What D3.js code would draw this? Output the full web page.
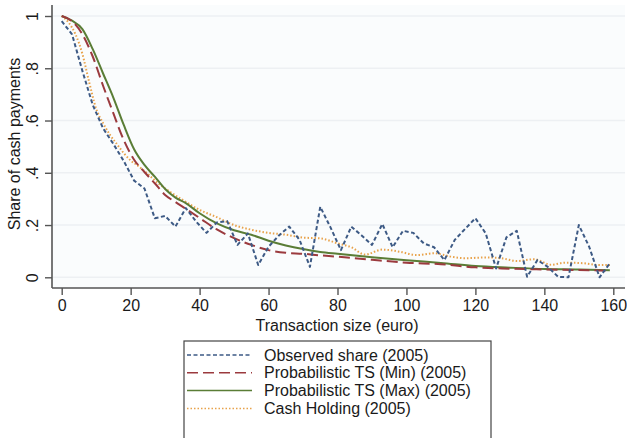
<!DOCTYPE html>
<html><head><meta charset="utf-8">
<script src="https://cdn.jsdelivr.net/npm/d3@7"></script>
<style>body{margin:0;background:#fff}svg{display:block}text{font-family:"Liberation Sans",Arial,sans-serif;fill:#1a1a1a}</style>
</head><body><div id="chart"></div>
<script>
// Observed share (2005)
const obsX = [0,3,6,9,12,15,18,21,24,27,30,33,36,39,42,45,48,51,54,57,60,63,66,69,72,75,78,81,84,87,90,93,96,99,102,105,108,111,114,117,120,123,126,129,132,135,138,141,144,147,150,153,156,159];
const obsY = [0.98,0.93,0.79,0.66,0.57,0.51,0.445,0.37,0.34,0.226,0.235,0.194,0.265,0.213,0.17,0.21,0.215,0.124,0.168,0.047,0.117,0.16,0.194,0.143,0.04,0.27,0.19,0.104,0.194,0.16,0.124,0.204,0.115,0.178,0.17,0.13,0.115,0.066,0.143,0.185,0.226,0.168,0.034,0.153,0.178,0.002,0.066,0.04,0.002,0.0,0.2,0.117,0.0,0.054];
// Probabilistic TS (Min)
const minX = [0,3,6,9,12,15,18,21,24,27,30,33,36,40,45,50,55,60,65,70,75,80,90,100,110,120,130,140,150,159];
const minY = [1.0,0.98,0.93,0.845,0.733,0.627,0.525,0.45,0.403,0.36,0.315,0.288,0.262,0.227,0.183,0.15,0.124,0.104,0.094,0.09,0.084,0.079,0.067,0.056,0.05,0.038,0.033,0.03,0.028,0.025];
// Probabilistic TS (Max)
const maxX = [0,3,6,9,12,15,18,21,24,27,30,33,36,40,45,50,55,60,65,70,75,80,90,100,110,120,130,140,150,159];
const maxY = [1.0,0.982,0.95,0.873,0.78,0.687,0.583,0.49,0.43,0.385,0.338,0.305,0.284,0.245,0.206,0.18,0.163,0.14,0.122,0.108,0.097,0.09,0.077,0.065,0.055,0.043,0.037,0.032,0.03,0.027];
// Cash Holding (2005)
const cashX = [0,2,4,6,8,10,12,14,16,18,20,22,25,28,30,35,40,45,50,55,60,65,70,75,80,84,88,93,98,103,108,113,117,123,128,132,137,142,146,151,156,159];
const cashY = [1.0,0.975,0.93,0.855,0.745,0.645,0.59,0.545,0.51,0.475,0.447,0.428,0.395,0.36,0.34,0.297,0.258,0.23,0.2,0.182,0.17,0.163,0.152,0.149,0.13,0.115,0.087,0.106,0.098,0.085,0.092,0.079,0.073,0.076,0.072,0.062,0.069,0.048,0.056,0.054,0.047,0.047];

const xTicks = [0,20,40,60,80,100,120,140,160];
const yTicks = [0,0.2,0.4,0.6,0.8,1];
const yTickLabels = ["0",".2",".4",".6",".8","1"];
const legendLabels = ["Observed share (2005)","Probabilistic TS (Min) (2005)","Probabilistic TS (Max) (2005)","Cash Holding (2005)"];
const xTitle = "Transaction size (euro)";
const yTitle = "Share of cash payments";

const W = 627, H = 438;
const svg = d3.select("#chart").append("svg").attr("width", W).attr("height", H);
const FONT = "'Liberation Sans',Arial,sans-serif";

const plotL = 52, plotR = 625, plotT = 5, plotB = 288;
const x = d3.scaleLinear().domain([0,160]).range([61.7,613.3]);
const y = d3.scaleLinear().domain([0,1]).range([277.3,16]);

svg.append("rect").attr("x",plotL).attr("y",plotT).attr("width",plotR-plotL).attr("height",plotB-plotT).attr("fill","#fafcfd");

// gridlines
svg.append("g").selectAll("line").data(yTicks).join("line")
  .attr("x1",plotL+1).attr("x2",plotR).attr("y1",d=>y(d)).attr("y2",d=>y(d))
  .attr("stroke","#edf0f3").attr("stroke-width",1.5);

// axes
const xAxis = d3.axisBottom(x).tickValues(xTicks).tickSize(7).tickPadding(5).tickFormat(d3.format("d"));
const gx = svg.append("g").attr("transform",`translate(0,${plotB})`).call(xAxis);
gx.select(".domain").attr("d",`M${plotL},0H${plotR}`).attr("stroke","#555").attr("stroke-width",1.6);
gx.selectAll(".tick line").attr("stroke","#555").attr("stroke-width",1.4);
gx.selectAll(".tick text").attr("font-size",16).attr("fill","#1a1a1a").attr("font-family",FONT);

const yAxis = d3.axisLeft(y).tickValues(yTicks).tickSize(7).tickFormat((d,i)=>yTickLabels[i]);
const gy = svg.append("g").attr("transform",`translate(${plotL},0)`).call(yAxis);
gy.select(".domain").attr("d",`M0,${plotT}V${plotB}`).attr("stroke","#555").attr("stroke-width",1.6);
gy.selectAll(".tick line").attr("stroke","#555").attr("stroke-width",1.4);
gy.selectAll(".tick text").attr("font-size",16).attr("fill","#1a1a1a").attr("font-family",FONT)
  .attr("x",null).attr("dy",null).attr("text-anchor","middle")
  .attr("transform","translate(-14,0) rotate(-90)");

// titles
svg.append("text").attr("x",337).attr("y",331).attr("text-anchor","middle").attr("font-size",16).text(xTitle);
svg.append("text").attr("transform","translate(20,144) rotate(-90)").attr("text-anchor","middle").attr("font-size",16).text(yTitle);

// series
const series = [
  {xs:obsX, ys:obsY, color:"#3d5a85", dash:"4,2.5", w:2, curve:d3.curveLinear},
  {xs:minX, ys:minY, color:"#9b3a3e", dash:"11,5", w:2, curve:d3.curveMonotoneX},
  {xs:maxX, ys:maxY, color:"#5a7d36", dash:null, w:2, curve:d3.curveMonotoneX},
  {xs:cashX, ys:cashY, color:"#e8a24a", dash:"1.5,2", w:2, curve:d3.curveMonotoneX}
];
const drawOrder = [3,2,1,0];
drawOrder.forEach(i=>{
  const s = series[i];
  const pts = s.xs.map((v,j)=>[v,s.ys[j]]);
  const line = d3.line().x(d=>x(d[0])).y(d=>y(d[1])).curve(s.curve);
  svg.append("path").attr("d",line(pts)).attr("fill","none").attr("stroke",s.color)
    .attr("stroke-width",s.w).attr("stroke-dasharray",s.dash).attr("stroke-linejoin","round");
});

// legend
const lg = svg.append("g");
lg.append("rect").attr("x",184).attr("y",341).attr("width",307).attr("height",110).attr("fill","#fff").attr("stroke","#444").attr("stroke-width",1.2);
legendLabels.forEach((lab,i)=>{
  const yy = 355 + i*17.8;
  const s = series[i];
  lg.append("line").attr("x1",187).attr("x2",252).attr("y1",yy).attr("y2",yy)
    .attr("stroke",s.color).attr("stroke-width",1.5).attr("stroke-dasharray",s.dash);
  lg.append("text").attr("x",264).attr("y",yy+5.5).attr("font-size",16).text(lab);
});
</script></body></html>
